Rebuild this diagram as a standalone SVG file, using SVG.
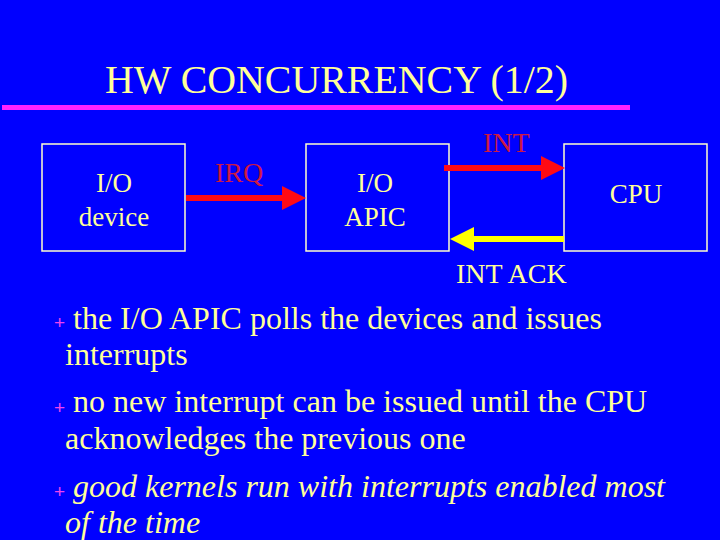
<svg xmlns="http://www.w3.org/2000/svg" width="720" height="540" viewBox="0 0 720 540">
<style>
.t{font-family:"Liberation Serif","Times New Roman",serif;fill:#ffff99}
.box{fill:none;stroke:#ffffcc;stroke-width:1.5}
.lbl{font-family:"Liberation Serif","Times New Roman",serif;font-size:28px;fill:#cc1a44}
.node{font-size:27px;text-anchor:middle}
.b{font-size:32px}
.bul{font-family:"Liberation Sans",Arial,sans-serif;font-size:19px;fill:#ee44ee}
</style>
<defs>
<marker id="hr" markerUnits="userSpaceOnUse" markerWidth="24" markerHeight="24" refX="0" refY="12" orient="auto"><path d="M0,0 L24,12 L0,24 z" fill="#ff0a14"/></marker>
<marker id="hy" markerUnits="userSpaceOnUse" markerWidth="24" markerHeight="24" refX="0" refY="12" orient="auto"><path d="M0,0 L24,12 L0,24 z" fill="#ffff00"/></marker>
</defs>
<rect width="720" height="540" fill="#0000ff"/>
<g id="title">
<text class="t" x="105" y="93" font-size="39" textLength="463" lengthAdjust="spacingAndGlyphs">HW CONCURRENCY (1/2)</text>
<rect x="2" y="105" width="628" height="5" fill="#ff22ff"/>
</g>
<g id="io-device">
<rect class="box" x="42" y="144" width="143" height="107"/>
<text class="t node" x="114" y="192">I/O</text>
<text class="t node" x="114" y="226">device</text>
</g>
<g id="io-apic">
<rect class="box" x="306" y="144" width="143" height="107"/>
<text class="t node" x="375" y="192">I/O</text>
<text class="t node" x="375" y="226">APIC</text>
</g>
<g id="cpu">
<rect class="box" x="564" y="144" width="143" height="107"/>
<text class="t node" x="636" y="203" font-size="26">CPU</text>
</g>
<g id="connectors">
<line x1="186" y1="198" x2="282" y2="198" stroke="#ff0a14" stroke-width="6" marker-end="url(#hr)"/>
<line x1="444" y1="168" x2="541" y2="168" stroke="#ff0a14" stroke-width="6" marker-end="url(#hr)"/>
<line x1="564" y1="239" x2="474" y2="239" stroke="#ffff00" stroke-width="6" marker-end="url(#hy)"/>
<text class="lbl" x="215" y="182">IRQ</text>
<text class="lbl" x="483" y="152">INT</text>
<text class="t" x="456" y="283" font-size="28">INT ACK</text>
</g>
<g id="bullets">
<text class="bul" x="54" y="329">+</text>
<text class="t b" x="73" y="329">the I/O APIC polls the devices and issues</text>
<text class="t b" x="65" y="365">interrupts</text>
<text class="bul" x="54" y="414">+</text>
<text class="t b" x="73" y="412">no new interrupt can be issued until the CPU</text>
<text class="t b" x="65" y="449">acknowledges the previous one</text>
<text class="bul" x="54" y="498">+</text>
<text class="t b" x="73" y="497" font-style="italic">good kernels run with interrupts enabled most</text>
<text class="t b" x="65" y="533" font-style="italic">of the time</text>
</g>
</svg>
